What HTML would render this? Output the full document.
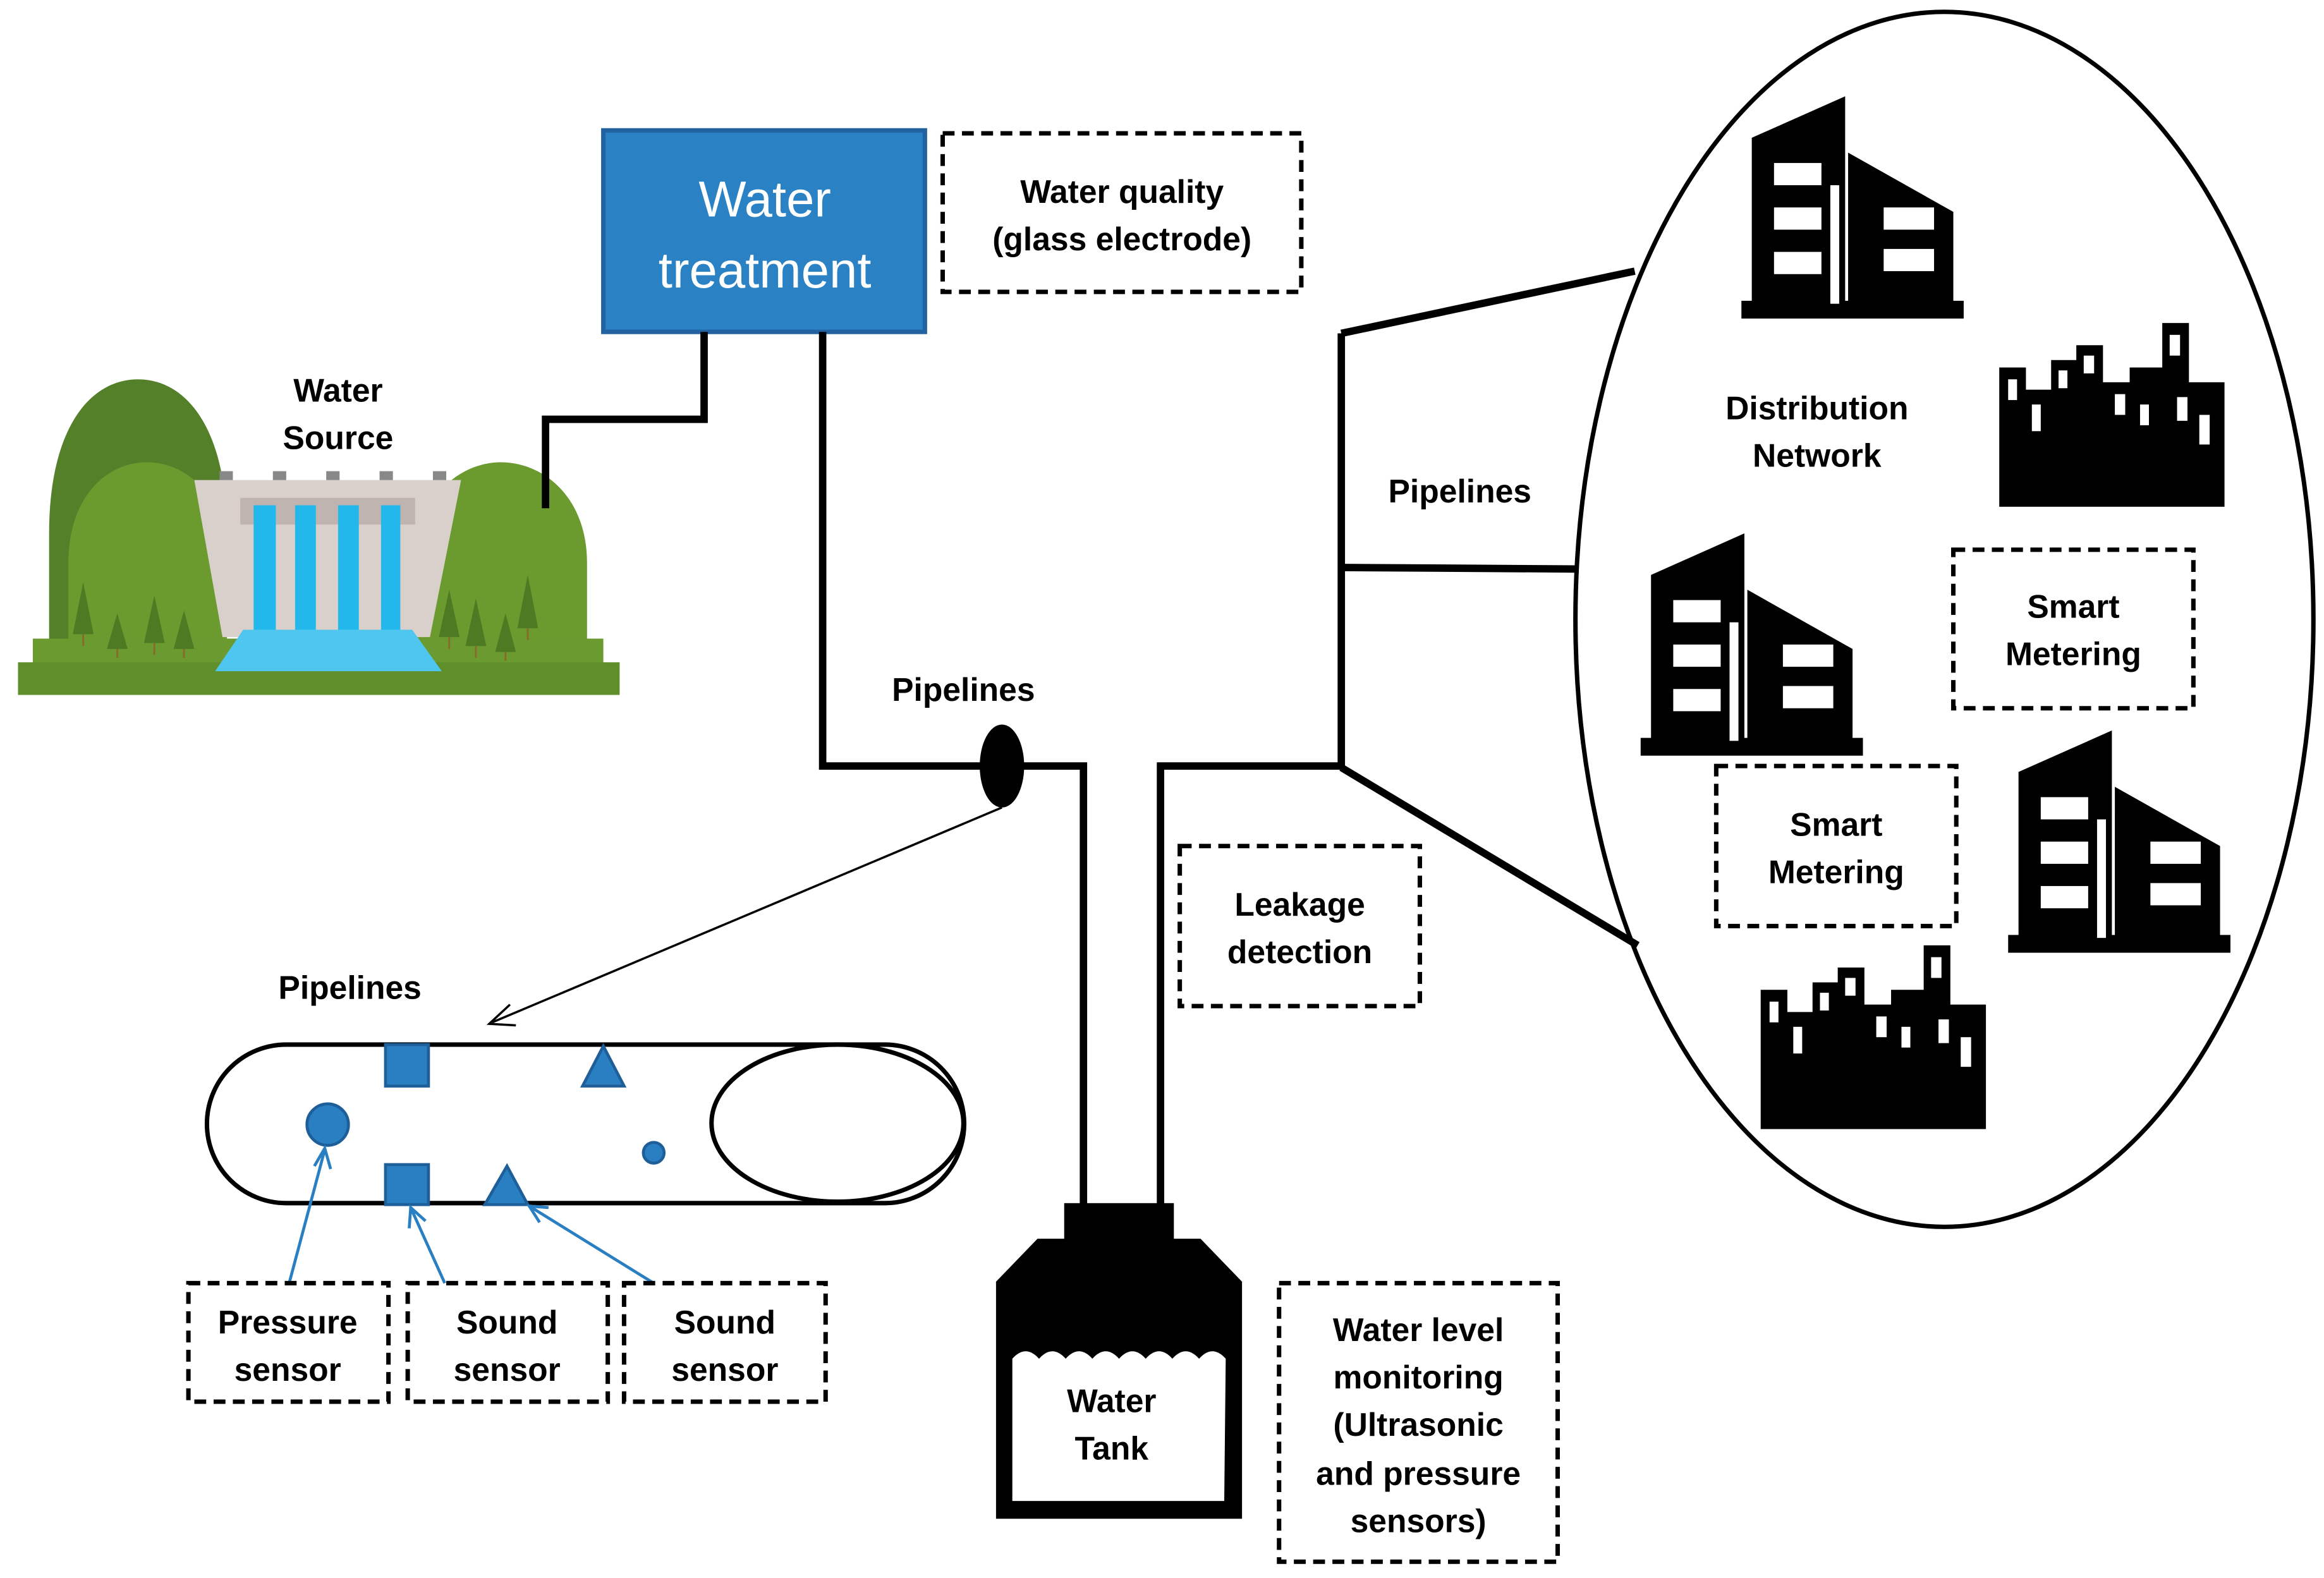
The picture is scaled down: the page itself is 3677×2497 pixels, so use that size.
<!DOCTYPE html>
<html><head><meta charset="utf-8"><style>
html,body{margin:0;padding:0;background:#fff;}
svg{display:block;}
text{font-family:"Liberation Sans",sans-serif;font-weight:bold;fill:#000;}
</style></head><body>
<svg width="3677" height="2497" viewBox="0 0 1568 1065" xmlns="http://www.w3.org/2000/svg">
<defs>
<g id="tall">
<polygon points="7,28 70,0 70,140 7,140" fill="#000"/>
<polygon points="72,38 143,78 143,140 72,140" fill="#000"/>
<rect x="0" y="138" width="150" height="12" fill="#000"/>
<rect x="22" y="45" width="32" height="15" fill="#fff"/>
<rect x="22" y="75" width="32" height="15" fill="#fff"/>
<rect x="22" y="105" width="32" height="15" fill="#fff"/>
<rect x="96" y="75" width="34" height="15" fill="#fff"/>
<rect x="96" y="103" width="34" height="15" fill="#fff"/>
<rect x="60" y="60" width="6" height="80" fill="#fff"/>
</g>
<g id="sky">
<polygon points="0,30 18,30 18,45 35,45 35,25 52,25 52,15 70,15 70,40 88,40 88,30 110,30 110,0 128,0 128,40 152,40 152,124 0,124" fill="#000"/>
<rect x="6" y="38" width="6" height="14" fill="#fff"/>
<rect x="40" y="32" width="6" height="12" fill="#fff"/>
<rect x="57" y="22" width="7" height="12" fill="#fff"/>
<rect x="78" y="48" width="7" height="14" fill="#fff"/>
<rect x="115" y="8" width="7" height="14" fill="#fff"/>
<rect x="120" y="50" width="7" height="16" fill="#fff"/>
<rect x="135" y="62" width="7" height="20" fill="#fff"/>
<rect x="22" y="55" width="6" height="18" fill="#fff"/>
<rect x="95" y="55" width="6" height="14" fill="#fff"/>
</g>
<clipPath id="hc"><rect x="0" y="0" width="430" height="440"/></clipPath>
</defs>

<!-- Dam / water source -->
<g clip-path="url(#hc)">
<path d="M33,440 L33,360 C33,290 60,256 93,256 C126,256 153,290 153,360 L153,440 Z" fill="#55802a"/>
<path d="M46,440 L46,380 C46,335 72,312 99,312 C126,312 153,335 153,380 L153,440 Z" fill="#6b9a2e"/>
<path d="M281,440 L281,380 C281,335 310,312 338,312 C366,312 396,335 396,380 L396,440 Z" fill="#6b9a2e"/>
</g>
<rect x="148" y="318" width="9" height="8" fill="#888"/>
<rect x="184" y="318" width="9" height="8" fill="#888"/>
<rect x="220" y="318" width="9" height="8" fill="#888"/>
<rect x="256" y="318" width="9" height="8" fill="#888"/>
<rect x="292" y="318" width="9" height="8" fill="#888"/>
<polygon points="131,324 311,324 290,430 150,430" fill="#d9d0cc"/>
<rect x="162" y="336" width="118" height="18" fill="#bfb4b0"/>
<rect x="171" y="341" width="15" height="86" fill="#22b8ec"/>
<rect x="199" y="341" width="14" height="86" fill="#22b8ec"/>
<rect x="228" y="341" width="14" height="86" fill="#22b8ec"/>
<rect x="257" y="341" width="13" height="86" fill="#22b8ec"/>
<rect x="22" y="431" width="385" height="18" fill="#6a9a30"/>
<rect x="12" y="447" width="406" height="22" fill="#5f8e2a"/>
<polygon points="164,425 278,425 298,453 145,453" fill="#4fc6ef"/>
<g fill="#4d7a22">
<polygon points="56,393 49,428 63,428"/><polygon points="79,414 72,438 86,438"/><polygon points="104,402 97,434 111,434"/><polygon points="124,412 117,438 131,438"/>
<polygon points="303,398 296,430 310,430"/><polygon points="321,404 314,436 328,436"/><polygon points="341,414 334,440 348,440"/><polygon points="356,388 349,424 363,424"/>
</g>
<g stroke="#8a6a2a" stroke-width="1.2">
<line x1="56" y1="428" x2="56" y2="436"/><line x1="79" y1="438" x2="79" y2="444"/><line x1="104" y1="434" x2="104" y2="442"/><line x1="124" y1="438" x2="124" y2="444"/>
<line x1="303" y1="430" x2="303" y2="438"/><line x1="321" y1="436" x2="321" y2="444"/><line x1="341" y1="440" x2="341" y2="446"/><line x1="356" y1="424" x2="356" y2="432"/>
</g>
<text x="228" y="271" font-size="22" text-anchor="middle">Water</text>
<text x="228" y="303" font-size="22" text-anchor="middle">Source</text>

<!-- Water treatment -->
<rect x="407" y="88" width="217" height="136" fill="#2a81c4" stroke="#2362a0" stroke-width="3"/>
<text x="516" y="146" font-size="34" style="font-weight:normal;fill:#fff" text-anchor="middle">Water</text>
<text x="516" y="194" font-size="34" style="font-weight:normal;fill:#fff" text-anchor="middle">treatment</text>
<rect x="636" y="90" width="242" height="107" fill="none" stroke="#000" stroke-width="3" stroke-dasharray="8,5"/>
<text x="757" y="137" font-size="22" text-anchor="middle">Water quality</text>
<text x="757" y="169" font-size="22" text-anchor="middle">(glass electrode)</text>

<!-- pipes -->
<g fill="none" stroke="#000" stroke-width="5">
<polyline points="475,224 475,283 368,283 368,343"/>
<polyline points="555,224 555,517 731,517 731,815"/>
<polyline points="783,815 783,517 905,517"/>
<line x1="905" y1="225" x2="905" y2="519"/>
<line x1="905" y1="225" x2="1103" y2="183"/>
<line x1="905" y1="383" x2="1063" y2="384"/>
<line x1="905" y1="518" x2="1105" y2="638"/>
</g>
<ellipse cx="676" cy="517" rx="15" ry="28" fill="#000"/>
<text x="650" y="473" font-size="22" text-anchor="middle">Pipelines</text>
<text x="985" y="339" font-size="22" text-anchor="middle">Pipelines</text>

<!-- thin arrow -->
<line x1="676" y1="545" x2="332" y2="690" stroke="#000" stroke-width="1.5"/>
<polyline points="344,678 330,691 348,692" fill="none" stroke="#000" stroke-width="1.5"/>

<!-- Distribution ellipse -->
<ellipse cx="1312" cy="418" rx="249" ry="410" fill="none" stroke="#000" stroke-width="3"/>
<text x="1226" y="283" font-size="22" text-anchor="middle">Distribution</text>
<text x="1226" y="315" font-size="22" text-anchor="middle">Network</text>
<use href="#tall" x="1175" y="65"/>
<use href="#tall" x="1107" y="360"/>
<use href="#tall" x="1355" y="493"/>
<use href="#sky" x="1349" y="218"/>
<use href="#sky" x="1188" y="638"/>
<rect x="1318" y="371" width="162" height="107" fill="#fff" stroke="#000" stroke-width="3" stroke-dasharray="8,5"/>
<text x="1399" y="417" font-size="22" text-anchor="middle">Smart</text>
<text x="1399" y="449" font-size="22" text-anchor="middle">Metering</text>
<rect x="1158" y="517" width="162" height="108" fill="#fff" stroke="#000" stroke-width="3" stroke-dasharray="8,5"/>
<text x="1239" y="564" font-size="22" text-anchor="middle">Smart</text>
<text x="1239" y="596" font-size="22" text-anchor="middle">Metering</text>

<!-- Leakage -->
<rect x="796" y="571" width="162" height="108" fill="none" stroke="#000" stroke-width="3" stroke-dasharray="8,5"/>
<text x="877" y="618" font-size="22" text-anchor="middle">Leakage</text>
<text x="877" y="650" font-size="22" text-anchor="middle">detection</text>

<!-- Tank -->
<rect x="718" y="812" width="74" height="26" fill="#000"/>
<polygon points="700,836 810,836 838,865 838,1025 672,1025 672,865" fill="#000"/>
<path d="M683,917 q9,-10 18,0 q9,-10 18,0 q9,-10 18,0 q9,-10 18,0 q9,-10 18,0 q9,-10 18,0 q9,-10 18,0 q9,-10 18,0 L826,1013 L683,1013 Z" fill="#fff"/>
<text x="750" y="953" font-size="22" text-anchor="middle">Water</text>
<text x="750" y="985" font-size="22" text-anchor="middle">Tank</text>
<rect x="863" y="866" width="188" height="188" fill="none" stroke="#000" stroke-width="3" stroke-dasharray="8,5"/>
<g font-size="22" text-anchor="middle">
<text x="957" y="905">Water level</text>
<text x="957" y="937">monitoring</text>
<text x="957" y="969">(Ultrasonic</text>
<text x="957" y="1002">and pressure</text>
<text x="957" y="1034">sensors)</text>
</g>

<!-- Pipeline capsule -->
<path d="M193,705 L597,705 A53,53 0 0 1 597,812 L193,812 A53,53 0 0 1 193,705 Z" fill="#fff" stroke="#000" stroke-width="3"/>
<ellipse cx="565" cy="758" rx="85" ry="53" fill="#fff" stroke="#000" stroke-width="3"/>
<text x="236" y="674" font-size="22" text-anchor="middle">Pipelines</text>
<g fill="#2a7fc2" stroke="#1f5f99" stroke-width="2">
<rect x="260" y="705" width="29" height="28"/>
<polygon points="407,706 393,733 421,733"/>
<circle cx="221" cy="759" r="14"/>
<rect x="260" y="786" width="29" height="27"/>
<polygon points="342,787 327,813 356,813"/>
<circle cx="441" cy="778" r="7"/>
</g>
<g stroke="#2a7fc2" stroke-width="2" fill="none">
<line x1="195" y1="866" x2="219" y2="776"/><polyline points="212,787 219,775 223,789"/>
<line x1="300" y1="866" x2="277" y2="815"/><polyline points="276,829 277,815 287,824"/>
<line x1="441" y1="866" x2="357" y2="814"/><polyline points="364,825 357,814 370,815"/>
</g>
<g fill="none" stroke="#000" stroke-width="3" stroke-dasharray="8,5">
<rect x="127" y="866" width="135" height="80"/>
<rect x="275" y="866" width="135" height="80"/>
<rect x="421" y="866" width="136" height="80"/>
</g>
<g font-size="22" text-anchor="middle">
<text x="194" y="900">Pressure</text><text x="194" y="932">sensor</text>
<text x="342" y="900">Sound</text><text x="342" y="932">sensor</text>
<text x="489" y="900">Sound</text><text x="489" y="932">sensor</text>
</g>
</svg>
</body></html>
